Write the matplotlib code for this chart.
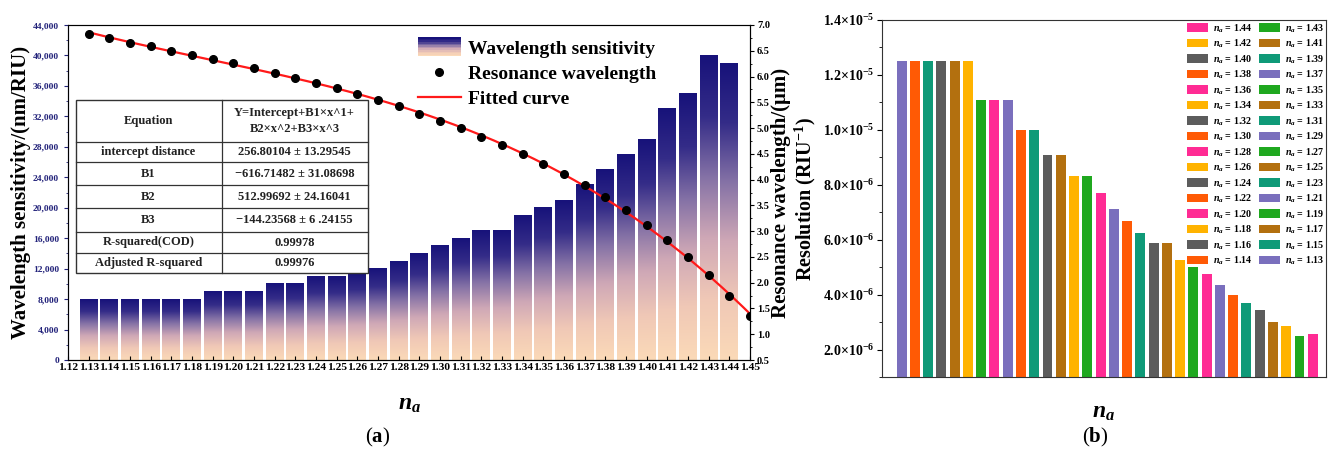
import numpy as np
import matplotlib
matplotlib.use("Agg")
import matplotlib.pyplot as plt
from matplotlib.colors import LinearSegmentedColormap
from matplotlib.patches import Rectangle
from matplotlib.lines import Line2D
from matplotlib.legend_handler import HandlerBase
from matplotlib.ticker import MultipleLocator, FuncFormatter

plt.rcParams['font.family'] = ['Liberation Serif', 'DejaVu Serif']
plt.rcParams['font.weight'] = 'bold'
plt.rcParams['axes.labelweight'] = 'bold'
plt.rcParams['mathtext.fontset'] = 'custom'
plt.rcParams['mathtext.rm'] = 'Liberation Serif:bold'
plt.rcParams['mathtext.it'] = 'Liberation Serif:italic:bold'
plt.rcParams['mathtext.bf'] = 'Liberation Serif:bold'

# ---- data (a) ----
na_bars = [1.13, 1.14, 1.15, 1.16, 1.17, 1.18, 1.19, 1.20, 1.21, 1.22, 1.23,
           1.24, 1.25, 1.26, 1.27, 1.28, 1.29, 1.30, 1.31, 1.32, 1.33, 1.34,
           1.35, 1.36, 1.37, 1.38, 1.39, 1.40, 1.41, 1.42, 1.43, 1.44]
sensitivity = [8000, 8000, 8000, 8000, 8000, 8000, 9000, 9000, 9000, 10000, 10000,
               11000, 11000, 11500, 12000, 13000, 14000, 15000, 16000, 17000, 17000, 19000,
               20000, 21000, 23000, 25000, 27000, 29000, 33000, 35000, 40000, 39000]
na_dots = [1.13, 1.14, 1.15, 1.16, 1.17, 1.18, 1.19, 1.20, 1.21, 1.22, 1.23,
           1.24, 1.25, 1.26, 1.27, 1.28, 1.29, 1.30, 1.31, 1.32, 1.33, 1.34,
           1.35, 1.36, 1.37, 1.38, 1.39, 1.40, 1.41, 1.42, 1.43, 1.44, 1.45]
res_wl = [6.83, 6.74, 6.66, 6.59, 6.50, 6.42, 6.34, 6.26, 6.16, 6.07, 5.97,
          5.87, 5.77, 5.66, 5.54, 5.42, 5.27, 5.14, 5.00, 4.83, 4.67, 4.49,
          4.30, 4.10, 3.90, 3.67, 3.41, 3.12, 2.83, 2.49, 2.14, 1.74, 1.36]
x_ticks = [round(1.12 + 0.01 * i, 2) for i in range(34)]

table_rows = [
    ("Equation", "Y=Intercept+B1×x^1+\nB2×x^2+B3×x^3"),
    ("intercept distance", "256.80104 ± 13.29545"),
    ("B1", "−616.71482 ± 31.08698"),
    ("B2", "512.99692 ± 24.16041"),
    ("B3", "−144.23568 ± 6 .24155"),
    ("R-squared(COD)", "0.99978"),
    ("Adjusted R-squared", "0.99976"),
]

# ---- data (b) ----
na_res = na_bars
resolution = [1.25e-5, 1.25e-5, 1.25e-5, 1.25e-5, 1.25e-5, 1.25e-5, 1.11e-5, 1.11e-5,
              1.11e-5, 1.0e-5, 1.0e-5, 9.1e-6, 9.1e-6, 8.33e-6, 8.33e-6, 7.69e-6,
              7.14e-6, 6.67e-6, 6.25e-6, 5.88e-6, 5.88e-6, 5.26e-6, 5.0e-6, 4.76e-6,
              4.35e-6, 4.0e-6, 3.70e-6, 3.45e-6, 3.03e-6, 2.86e-6, 2.5e-6, 2.56e-6]
palette = ['#7a6fbd', '#ff5a05', '#0f9a78', '#5c5c5c', '#b3700f', '#ffb300', '#1fa81f', '#ff2b94']

W, H = 1333, 451
fig = plt.figure(figsize=(W / 100, H / 100), dpi=100)

def box(l, t, r, b):
    return [l / W, 1 - b / H, (r - l) / W, (b - t) / H]

navy = '#22227a'
grad = LinearSegmentedColormap.from_list('g', ['#fbdab8', '#f0c8b6', '#cfa8b6', '#8572a6', '#342c88', '#17127a'])

# ---------- panel (a) ----------
ax1 = fig.add_axes(box(68, 25, 750, 360))
ax2 = ax1.twinx()
bw = 0.0087
g = np.linspace(0, 1, 256).reshape(-1, 1)
for x, h in zip(na_bars, sensitivity):
    ax1.imshow(g, extent=[x - bw / 2, x + bw / 2, 0, h], origin='lower', cmap=grad,
               aspect='auto', zorder=1, interpolation='bilinear')
ax1.set_xlim(1.12, 1.45)
ax1.set_ylim(0, 44000)
ax1.set_yticks(np.arange(0, 44001, 4000))
ax1.yaxis.set_major_formatter(FuncFormatter(lambda v, p: f"{int(v):,}"))
ax1.yaxis.set_minor_locator(MultipleLocator(2000))
ax1.tick_params(axis='y', colors=navy, labelsize=6.8, direction='out', length=3)
ax1.tick_params(axis='y', which='minor', colors=navy, length=1.5)
ax1.set_xticks(x_ticks)
ax1.set_xticklabels([f"{v:.2f}" for v in x_ticks])
ax1.tick_params(axis='x', labelsize=8.2, direction='in', length=3, pad=2)
ax1.spines['left'].set_color(navy)
ax1.spines['top'].set_color('#555555')
ax1.set_ylabel("Wavelength sensitivity/(nm/RIU)", fontsize=15, labelpad=1)
ax1.set_xlabel(r"$n_a$", fontsize=17, labelpad=16)

poly = np.polyfit(na_dots, res_wl, 3)
xf = np.linspace(1.13, 1.45, 200)
ax2.plot(xf, np.polyval(poly, xf), color='#ff1a1a', lw=1.6, zorder=3)
ax2.plot(na_dots, res_wl, 'o', color='black', ms=5.5, zorder=4)
ax2.set_ylim(0.5, 7.0)
ax2.set_yticks(np.arange(0.5, 7.01, 0.5))
ax2.yaxis.set_major_formatter(FuncFormatter(lambda v, p: f"{v:.1f}"))
ax2.yaxis.set_minor_locator(MultipleLocator(0.25))
ax2.tick_params(axis='y', labelsize=7.5, direction='out', length=3, pad=2)
ax2.tick_params(axis='y', which='minor', length=1.5)
ax2.set_ylabel("Resonance wavelength/(μm)", fontsize=15, labelpad=1)


class HandlerGrad(HandlerBase):
    def create_artists(self, legend, orig, xd, yd, width, height, fontsize, trans):
        arts = []
        n = 12
        for i in range(n):
            r = Rectangle((xd, yd + height * 1.4 * i / n - height * 0.2), width, height * 1.4 / n,
                          facecolor=grad(i / (n - 1)), edgecolor='none', transform=trans)
            arts.append(r)
        return arts


h_bar = Rectangle((0, 0), 1, 1)
h_dot = Line2D([], [], marker='o', color='black', ls='none', ms=5.5)
h_line = Line2D([], [], color='#ff1a1a', lw=1.6)
ax2.legend([h_bar, h_dot, h_line],
           ["Wavelength sensitivity", "Resonance wavelength", "Fitted curve"],
           handler_map={Rectangle: HandlerGrad()}, loc='upper left',
           bbox_to_anchor=((418 - 68) / 682, (360 - 40) / 335), frameon=False,
           fontsize=14, borderpad=0, handlelength=2.2, handletextpad=0.35,
           labelspacing=0.38, borderaxespad=0)

# table drawn in pixel-derived axes coords
def fx(px):
    return (px - 68) / 682

def fy(py):
    return (360 - py) / 335

row_lines = [100, 141.7, 162.3, 185, 208, 231.7, 253.3, 273.3]
tl, tm, tr = 75.5, 221.7, 367.5
ax2.add_patch(Rectangle((fx(tl), fy(row_lines[-1])), fx(tr) - fx(tl), fy(row_lines[0]) - fy(row_lines[-1]),
                        transform=ax2.transAxes, facecolor='white', edgecolor='#333333', lw=1.0, zorder=5))
for yy in row_lines[1:-1]:
    ax2.plot([fx(tl), fx(tr)], [fy(yy), fy(yy)], transform=ax2.transAxes, color='#333333', lw=0.9, zorder=6)
ax2.plot([fx(tm), fx(tm)], [fy(row_lines[0]), fy(row_lines[-1])], transform=ax2.transAxes,
         color='#333333', lw=0.9, zorder=6)
for i, (a, b) in enumerate(table_rows):
    yc = fy((row_lines[i] + row_lines[i + 1]) / 2)
    ax2.text(fx((tl + tm) / 2), yc, a, transform=ax2.transAxes, ha='center', va='center',
             fontsize=9, zorder=7, color='#222222')
    ax2.text(fx((tm + tr) / 2), yc, b, transform=ax2.transAxes, ha='center', va='center',
             fontsize=9, zorder=7, color='#222222', linespacing=1.5)

# ---------- panel (b) ----------
ax3 = fig.add_axes(box(881.7, 20, 1326, 377.3))
pos = np.arange(len(na_res))
cols = [palette[i % 8] for i in range(len(na_res))]
bars = ax3.bar(pos, resolution, width=0.75, color=cols, edgecolor='none', zorder=2)
ax3.set_xlim(-1.5, 32)
ax3.set_ylim(1e-6, 1.4e-5)
ax3.set_xticks([])
ticks = [2e-6, 4e-6, 6e-6, 8e-6, 1e-5, 1.2e-5, 1.4e-5]
tlabels = [r"2.0×10$^{-6}$", r"4.0×10$^{-6}$", r"6.0×10$^{-6}$", r"8.0×10$^{-6}$",
           r"1.0×10$^{-5}$", r"1.2×10$^{-5}$", r"1.4×10$^{-5}$"]
ax3.set_yticks(ticks)
ax3.set_yticklabels(tlabels)
ax3.yaxis.set_minor_locator(MultipleLocator(1e-6))
ax3.tick_params(axis='y', labelsize=10, direction='out', length=3.5, pad=2)
ax3.tick_params(axis='y', which='minor', length=2)
for s in ax3.spines.values():
    s.set_color('#333333')
ax3.set_ylabel(r"Resolution (RIU$^{-1}$)", fontsize=14.5, labelpad=3)
ax3.set_xlabel(r"$n_a$", fontsize=17, labelpad=18)

order = list(range(31, 0, -2)) + list(range(30, -1, -2))
ax3.legend([bars[i] for i in order], [rf"$n_a$ = {na_res[i]:.2f}" for i in order],
           ncol=2, loc='upper right', bbox_to_anchor=(1.0, 1.0), frameon=False,
           fontsize=7.2, handlelength=2.1, handleheight=0.9, handletextpad=0.5,
           labelspacing=0.3, columnspacing=0.6, borderpad=0.1, borderaxespad=0.1)

fig.text(378 / W, 1 - 437 / H, r"($\mathbf{a}$)", ha='center', va='center', fontsize=15, fontweight='normal')
fig.text(1095 / W, 1 - 437 / H, r"($\mathbf{b}$)", ha='center', va='center', fontsize=15, fontweight='normal')

fig.savefig("out.png", dpi=100)
